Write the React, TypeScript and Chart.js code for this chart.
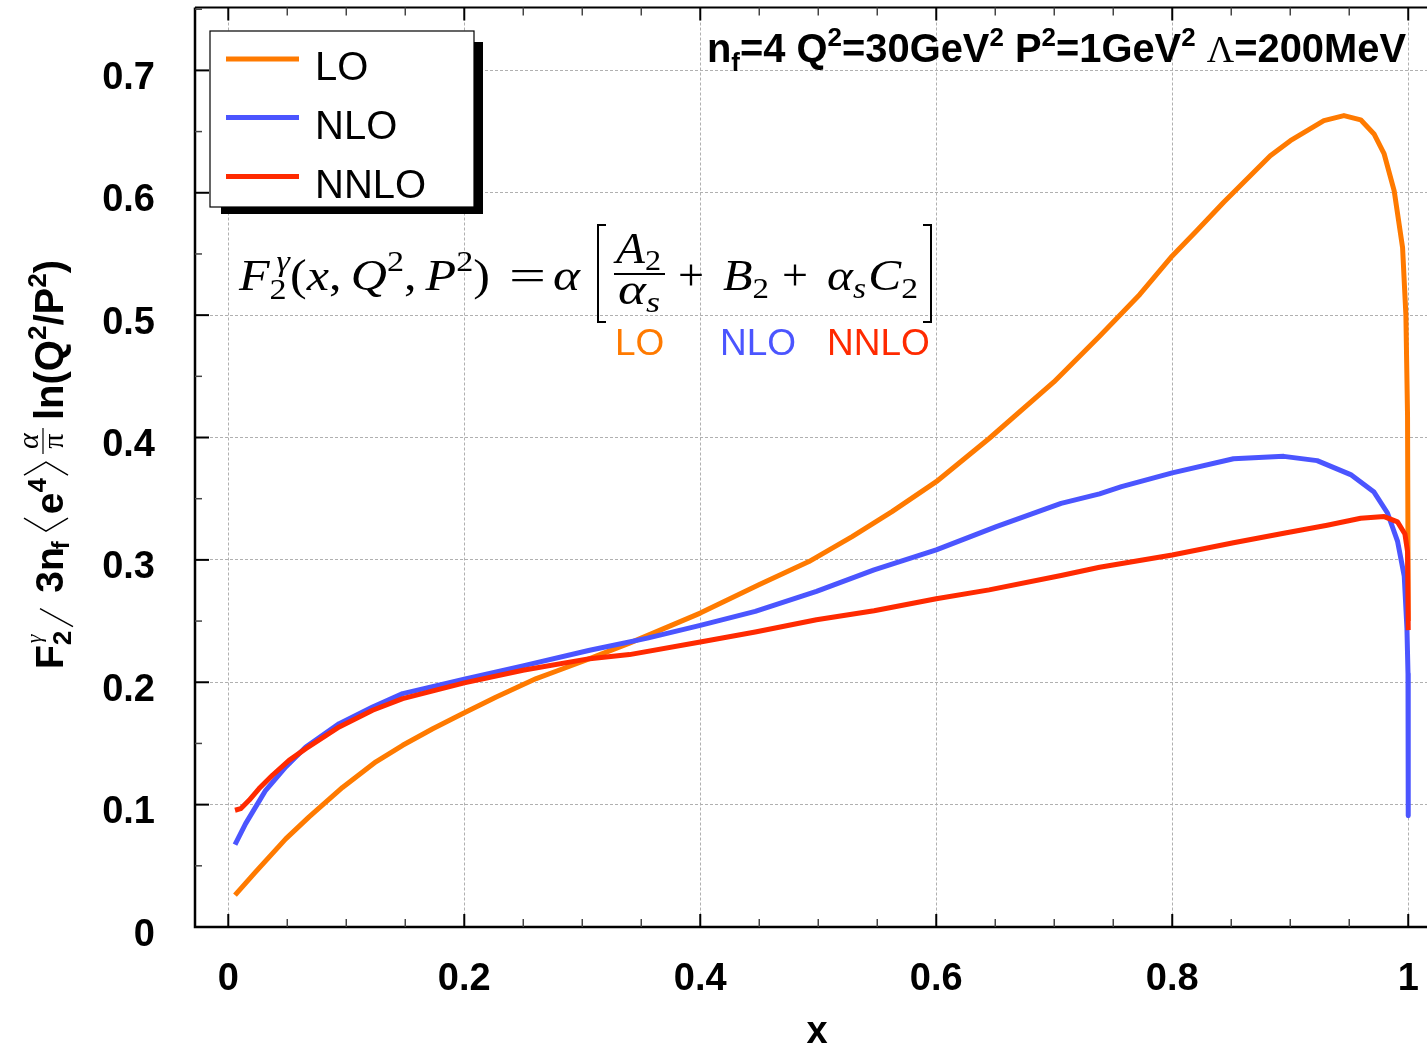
import React, { useEffect, useRef } from "react";
import { Chart, registerables } from "chart.js";

Chart.register(...registerables);

const SANS = '"Liberation Sans", Arial, Helvetica, sans-serif';
const SERIF = '"Liberation Serif", "Times New Roman", serif';

// ---- axes ----
const X_TICKS = [0, 0.2, 0.4, 0.6, 0.8, 1];
const X_TICK_LABELS = ["0", "0.2", "0.4", "0.6", "0.8", "1"];
const Y_TICKS = [0, 0.1, 0.2, 0.3, 0.4, 0.5, 0.6, 0.7];
const Y_TICK_LABELS = ["0", "0.1", "0.2", "0.3", "0.4", "0.5", "0.6", "0.7"];
const X_MINOR_STEP = 0.05;
const Y_MINOR_STEP = 0.05;
const X_MIN = -0.0282;
const X_MAX = 1.0159;
const Y_MIN = 0;
const Y_MAX = 0.7514;
const X_TITLE = "x";

// ---- series ----
const SERIES_NAMES = ["LO", "NLO", "NNLO"];
const SERIES_COLORS = ["#ff7a00", "#4b55ff", "#ff2a00"];

const LO_X = [0.0057, 0.0232, 0.0487, 0.0685, 0.0968, 0.1251, 0.1478, 0.1733, 0.1988, 0.2271, 0.261, 0.279, 0.3063, 0.34, 0.4, 0.4497, 0.4921, 0.5287, 0.5625, 0.6, 0.6448, 0.6997, 0.7384, 0.7725, 0.8, 0.8207, 0.8434, 0.8661, 0.8831, 0.9001, 0.9285, 0.9455, 0.9597, 0.971, 0.9796, 0.9881, 0.9952, 0.998, 0.9994, 1.0];
const LO_Y = [0.026, 0.045, 0.072, 0.09, 0.114, 0.135, 0.1485, 0.162, 0.1744, 0.188, 0.203, 0.2094, 0.2193, 0.232, 0.2565, 0.2796, 0.2986, 0.319, 0.3394, 0.3639, 0.3992, 0.4454, 0.4828, 0.5169, 0.5484, 0.5689, 0.5921, 0.6139, 0.6303, 0.6426, 0.659, 0.6631, 0.6596, 0.6481, 0.6317, 0.6016, 0.5552, 0.5005, 0.4186, 0.25];

const NLO_X = [0.0057, 0.0147, 0.0317, 0.0487, 0.0657, 0.094, 0.1223, 0.1478, 0.2, 0.2497, 0.3063, 0.3552, 0.4, 0.4466, 0.4985, 0.5473, 0.6, 0.6509, 0.7058, 0.7384, 0.757, 0.8, 0.8519, 0.8945, 0.9228, 0.9512, 0.971, 0.9824, 0.9909, 0.9966, 0.9989, 0.9998, 1.0];
const NLO_Y = [0.0673, 0.0845, 0.1117, 0.1308, 0.1471, 0.1662, 0.1798, 0.1907, 0.2025, 0.2134, 0.2262, 0.2361, 0.2465, 0.2579, 0.2742, 0.2918, 0.3082, 0.3272, 0.3462, 0.354, 0.3598, 0.3711, 0.3826, 0.3846, 0.3811, 0.3697, 0.3554, 0.3383, 0.3154, 0.2869, 0.244, 0.207, 0.091];

const NNLO_X = [0.0057, 0.0105, 0.0176, 0.0261, 0.0374, 0.0515, 0.0657, 0.094, 0.1223, 0.1478, 0.2, 0.2497, 0.3063, 0.34, 0.4, 0.4466, 0.4985, 0.5473, 0.6, 0.6448, 0.7058, 0.7384, 0.8, 0.8519, 0.8945, 0.9313, 0.9597, 0.9796, 0.9909, 0.9972, 0.9994, 1.0];
const NNLO_Y = [0.0954, 0.0967, 0.1035, 0.1131, 0.124, 0.1362, 0.1458, 0.1635, 0.1771, 0.1866, 0.1995, 0.2098, 0.2193, 0.2226, 0.2329, 0.241, 0.2511, 0.2584, 0.2682, 0.2755, 0.2872, 0.294, 0.304, 0.314, 0.3217, 0.3283, 0.334, 0.3354, 0.3311, 0.3211, 0.3069, 0.2426];

const SERIES_X = [LO_X, NLO_X, NNLO_X];
const SERIES_Y = [LO_Y, NLO_Y, NNLO_Y];

type Tok = { t: string; font: string; dy?: number; gap?: number; noAdv?: boolean; dx?: number };

function drawSeq(ctx: CanvasRenderingContext2D, toks: Tok[], x0: number, x1: number | null, y: number): number {
  let w = 0;
  for (const k of toks) {
    ctx.font = k.font;
    w += (k.gap || 0) + (k.noAdv ? 0 : ctx.measureText(k.t).width);
  }
  const sx = x1 == null ? 1 : (x1 - x0) / w;
  ctx.save();
  ctx.translate(x0, y);
  ctx.scale(sx, 1);
  ctx.textAlign = "left";
  let u = 0;
  for (const k of toks) {
    ctx.font = k.font;
    u += k.gap || 0;
    ctx.fillText(k.t, u + (k.dx || 0), k.dy || 0);
    if (!k.noAdv) u += ctx.measureText(k.t).width;
  }
  ctx.restore();
  return w * sx;
}

function poly(ctx: CanvasRenderingContext2D, pts: number[][], width: number) {
  ctx.lineWidth = width;
  ctx.beginPath();
  pts.forEach((p, i) => (i === 0 ? ctx.moveTo(p[0], p[1]) : ctx.lineTo(p[0], p[1])));
  ctx.stroke();
}

const decorPlugin = {
  id: "decor",
  afterDraw(chart: any) {
    const ctx: CanvasRenderingContext2D = chart.ctx;
    const xs = chart.scales.x;
    const ys = chart.scales.y;
    const { left, right, top, bottom } = chart.chartArea;
    ctx.save();
    ctx.fillStyle = "#000";
    ctx.strokeStyle = "#000";
    ctx.textAlign = "left";
    ctx.textBaseline = "alphabetic";

    // frame
    poly(ctx, [[left, top], [left, bottom], [right, bottom]], 2.5);
    poly(ctx, [[left, top], [right, top]], 2);

    // tick marks (inward)
    const nX = Math.round(1 / X_MINOR_STEP);
    for (let i = 0; i <= nX; i++) {
      const px = xs.getPixelForValue(i * X_MINOR_STEP);
      const major = i % 4 === 0;
      const len = major ? 13 : 8;
      ctx.strokeStyle = major ? "#000" : "#444";
      poly(ctx, [[px, bottom], [px, bottom - len]], major ? 2 : 1.5);
      poly(ctx, [[px, top], [px, top + len]], major ? 2 : 1.5);
    }
    const nY = Math.round(0.75 / Y_MINOR_STEP);
    for (let i = 0; i <= nY; i++) {
      const py = ys.getPixelForValue(i * Y_MINOR_STEP);
      const major = i % 2 === 0;
      ctx.strokeStyle = major ? "#000" : "#444";
      poly(ctx, [[left, py], [left + (major ? 14 : 7), py]], major ? 2 : 1.5);
    }
    ctx.strokeStyle = "#000";

    // tick labels
    ctx.font = `bold 38px ${SANS}`;
    ctx.textAlign = "right";
    Y_TICKS.forEach((v, i) => {
      ctx.fillText(Y_TICK_LABELS[i], 155, ys.getPixelForValue(v) + 18.6);
    });
    ctx.textAlign = "center";
    X_TICKS.forEach((v, i) => {
      ctx.fillText(X_TICK_LABELS[i], xs.getPixelForValue(v), 990);
    });
    ctx.fillText(X_TITLE, 817, 1043);
    ctx.textAlign = "left";

    // y title (rotated, reads bottom to top)
    ctx.save();
    ctx.translate(63, 669);
    ctx.rotate(-Math.PI / 2);
    const B = (s: number) => `bold ${s}px ${SANS}`;
    let u = 0;
    u += drawSeq(ctx, [
      { t: "F", font: B(39) },
      { t: "γ", font: `italic 22px ${SERIF}`, dy: -22, noAdv: true, dx: 2 },
      { t: "2", font: B(26), dy: 8 },
    ], u, null, 0);
    u += 4;
    poly(ctx, [[u, 10], [u + 18, -23]], 1.4);
    u += 34;
    u += drawSeq(ctx, [{ t: "3n", font: B(39) }, { t: "f", font: B(24), dy: 6, gap: -2 }], u, null, 0);
    u += 10;
    poly(ctx, [[u + 13, -39], [u, -17], [u + 13, 5]], 1.4);
    u += 17;
    u += drawSeq(ctx, [{ t: "e", font: B(39) }, { t: "4", font: B(26), dy: -17 }], u, null, 0);
    u += 3;
    poly(ctx, [[u, -39], [u + 13, -17], [u, 5]], 1.4);
    u += 22;
    ctx.textAlign = "center";
    ctx.font = `italic 30px ${SERIF}`;
    ctx.fillText("α", u + 12, -25);
    ctx.font = `30px ${SERIF}`;
    ctx.fillText("π", u + 12, 0);
    poly(ctx, [[u - 1, -20], [u + 25, -20]], 1.2);
    ctx.textAlign = "left";
    u += 33;
    drawSeq(ctx, [
      { t: "ln(Q", font: B(40) },
      { t: "2", font: B(26), dy: -17 },
      { t: "/P", font: B(40) },
      { t: "2", font: B(26), dy: -17 },
      { t: ")", font: B(40) },
    ], u, null, 0);
    ctx.restore();

    // header text
    const HB = `bold 40px ${SANS}`;
    const HS = `bold 26px ${SANS}`;
    drawSeq(ctx, [
      { t: "n", font: HB },
      { t: "f", font: HS, dy: 9 },
      { t: "=4 ", font: HB },
      { t: "Q", font: HB },
      { t: "2", font: HS, dy: -16 },
      { t: "=30GeV", font: HB },
      { t: "2", font: HS, dy: -16 },
      { t: " P", font: HB },
      { t: "2", font: HS, dy: -16 },
      { t: "=1GeV", font: HB },
      { t: "2", font: HS, dy: -16 },
      { t: " ", font: HB },
      { t: "Λ", font: `38px ${SERIF}` },
      { t: "=200MeV", font: HB },
    ], 707, 1406, 62);

    // legend
    ctx.fillStyle = "#000";
    ctx.fillRect(221, 42, 262, 172);
    ctx.fillStyle = "#fff";
    ctx.fillRect(210, 31, 264, 176);
    ctx.strokeStyle = "#000";
    ctx.lineWidth = 1.2;
    ctx.strokeRect(210, 31, 264, 176);
    const legY = [59, 117.5, 176.5];
    SERIES_NAMES.forEach((name, i) => {
      ctx.strokeStyle = SERIES_COLORS[i];
      poly(ctx, [[226, legY[i]], [299, legY[i]]], 5);
      ctx.fillStyle = "#000";
      ctx.font = `40px ${SANS}`;
      ctx.fillText(name, 315, legY[i] + 21);
    });

    // formula
    ctx.fillStyle = "#000";
    ctx.strokeStyle = "#000";
    const IT = `italic 44px ${SERIF}`;
    const RM = `44px ${SERIF}`;
    const SB = `30px ${SERIF}`;
    const SBI = `italic 30px ${SERIF}`;
    const base = 290;
    drawSeq(ctx, [
      { t: "F", font: IT },
      { t: "γ", font: SBI, dy: -19, noAdv: true, dx: 6 },
      { t: "2", font: SB, dy: 9 },
      { t: "(", font: RM, gap: 3 },
      { t: "x", font: IT },
      { t: ",", font: RM },
      { t: "Q", font: IT, gap: 8 },
      { t: "2", font: SB, dy: -19 },
      { t: ",", font: RM },
      { t: "P", font: IT, gap: 8 },
      { t: "2", font: SB, dy: -19 },
      { t: ")", font: RM },
    ], 239, 490, base);
    drawSeq(ctx, [{ t: "=", font: RM }], 509, 546, base);
    drawSeq(ctx, [{ t: "α", font: IT }], 553, 580, base);
    drawSeq(ctx, [{ t: "A", font: IT }, { t: "2", font: SB, dy: 7 }], 616, 661, 263);
    drawSeq(ctx, [{ t: "α", font: IT }, { t: "s", font: SBI, dy: 8 }], 618, 660, 304);
    poly(ctx, [[614, 274], [665, 274]], 1.8);
    drawSeq(ctx, [{ t: "+", font: RM }], 678, 704, base);
    drawSeq(ctx, [{ t: "B", font: IT }, { t: "2", font: SB, dy: 8 }], 723, 769, base);
    drawSeq(ctx, [{ t: "+", font: RM }], 782, 808, base);
    drawSeq(ctx, [
      { t: "α", font: IT },
      { t: "s", font: SBI, dy: 8 },
      { t: "C", font: IT, gap: 2 },
      { t: "2", font: SB, dy: 8 },
    ], 827, 918, base);
    poly(ctx, [[606, 225], [598, 225], [598, 322], [606, 322]], 2);
    poly(ctx, [[923, 225], [931, 225], [931, 322], [923, 322]], 2);

    // coloured order labels
    ctx.font = `37px ${SANS}`;
    const ordX = [615, 720, 827];
    SERIES_NAMES.forEach((name, i) => {
      ctx.fillStyle = SERIES_COLORS[i];
      ctx.fillText(name, ordX[i], 355);
    });

    ctx.restore();
  },
};

export default function App() {
  const ref = useRef<HTMLCanvasElement | null>(null);
  useEffect(() => {
    if (!ref.current) return;
    const datasets = SERIES_NAMES.map((name, i) => ({
      label: name,
      data: SERIES_X[i].map((x, j) => ({ x, y: SERIES_Y[i][j] })),
      borderColor: SERIES_COLORS[i],
      backgroundColor: SERIES_COLORS[i],
      borderWidth: 5,
      pointRadius: 0,
      showLine: true,
      fill: false,
      tension: 0,
      borderJoinStyle: "round" as const,
      order: 2 - i,
    }));
    const chart = new Chart(ref.current, {
      type: "scatter",
      data: { datasets },
      options: {
        animation: false,
        responsive: false,
        devicePixelRatio: 1,
        layout: { padding: { top: 7.5, left: 0, right: 0, bottom: 0 } },
        plugins: { legend: { display: false }, tooltip: { enabled: false } },
        scales: {
          x: {
            type: "linear",
            min: X_MIN,
            max: X_MAX,
            afterFit: (s: any) => { s.height = 123; },
            ticks: { display: false, stepSize: 0.2, includeBounds: false },
            grid: { color: "#b0b0b0", lineWidth: 1, drawTicks: false },
            border: { display: false, dash: [3, 2] },
          },
          y: {
            type: "linear",
            min: Y_MIN,
            max: Y_MAX,
            afterFit: (s: any) => { s.width = 195; },
            ticks: { display: false, stepSize: 0.1, includeBounds: false },
            grid: { color: "#b0b0b0", lineWidth: 1, drawTicks: false },
            border: { display: false, dash: [3, 2] },
          },
        },
      },
      plugins: [decorPlugin],
    } as any);
    return () => chart.destroy();
  }, []);
  return (
    <div style={{ position: "fixed", left: 0, top: 0, width: 1427, height: 1050, background: "#fff" }}>
      <canvas ref={ref} width={1427} height={1050} />
    </div>
  );
}
